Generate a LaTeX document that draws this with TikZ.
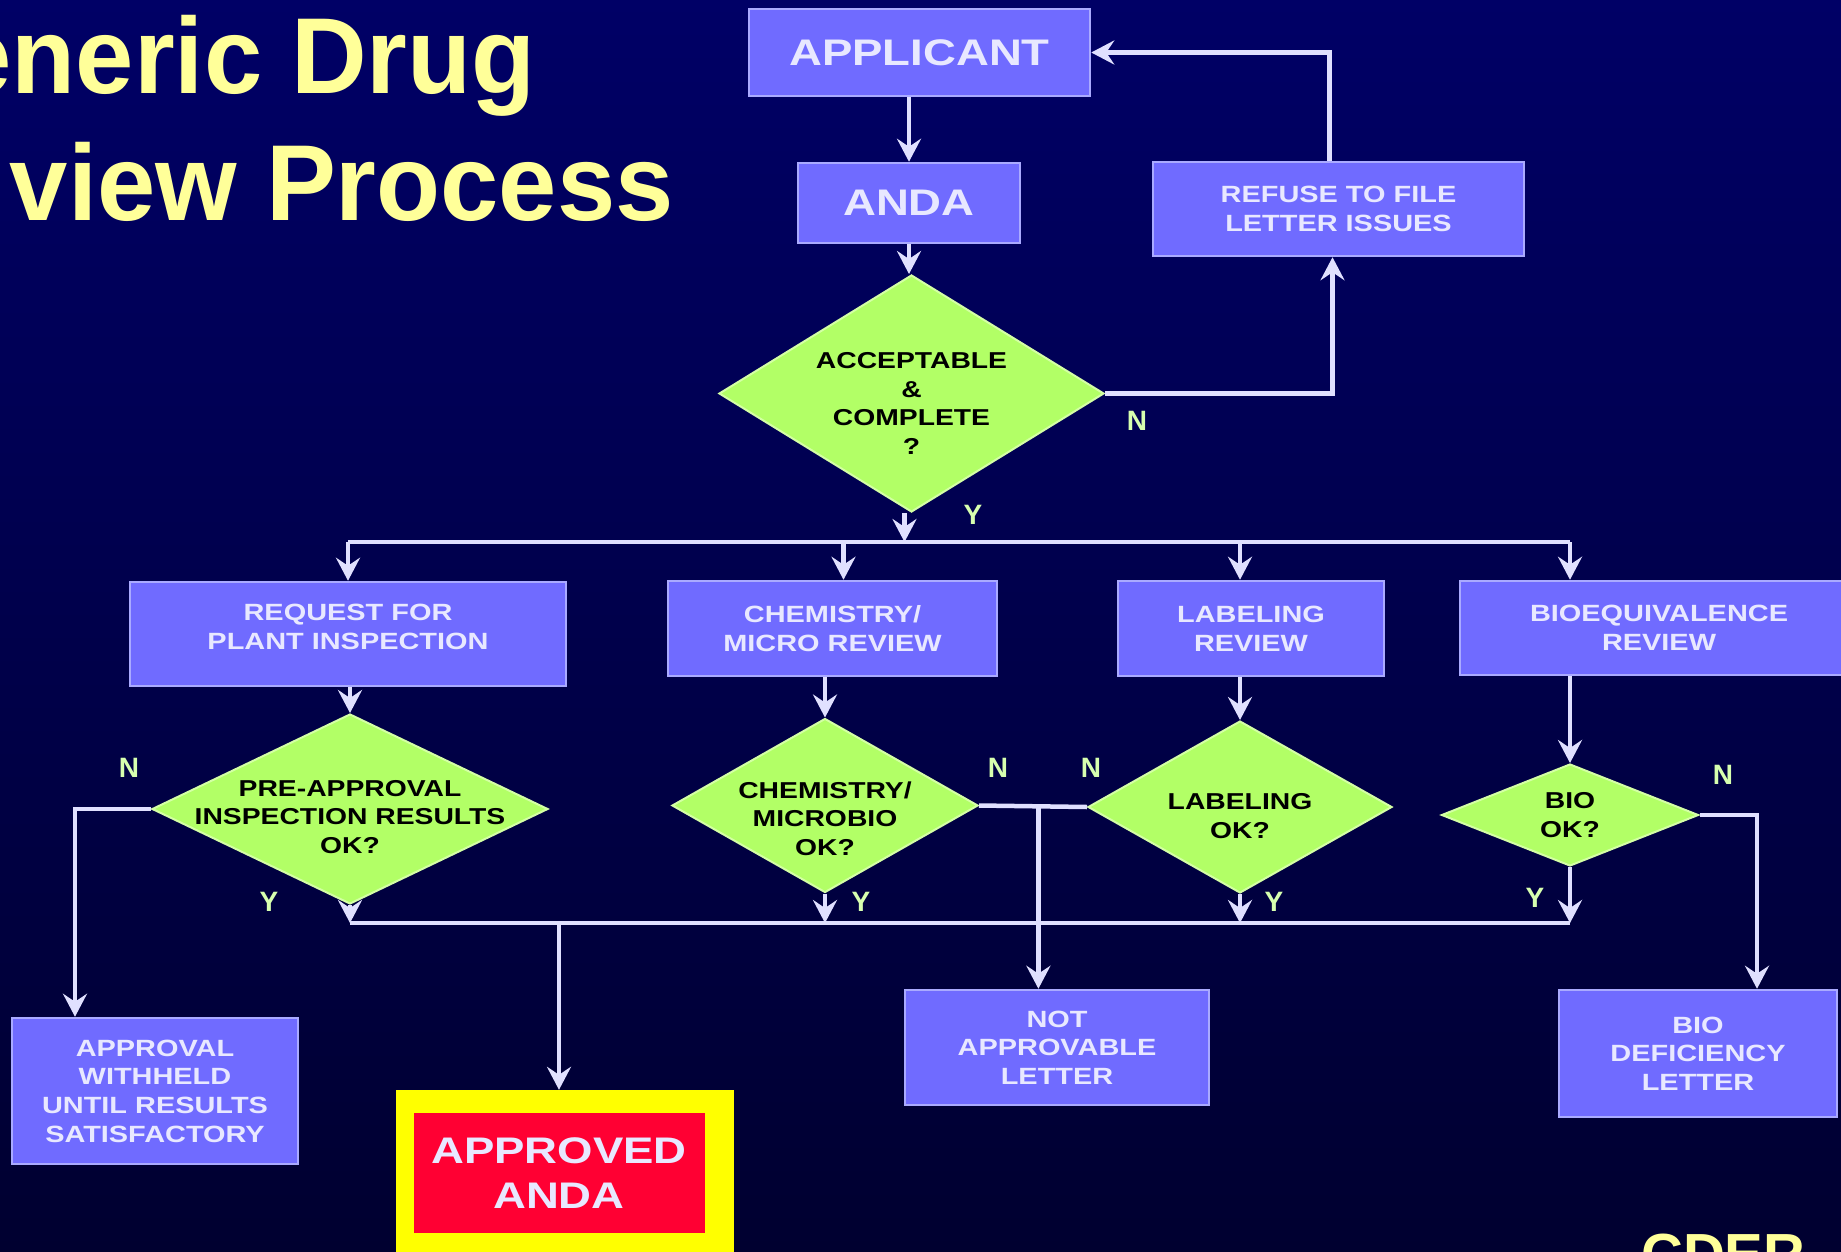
\documentclass[tikz,border=0pt]{standalone}
\usepackage{fontspec}
\setmainfont{Liberation Sans}
\newfontfamily\boxfont{Liberation Sans}[FakeStretch=1.23]
\newfontfamily\titlefont{Liberation Sans}[FakeStretch=0.97]
\usetikzlibrary{arrows.meta,shapes.geometric,calc}
\definecolor{bgtop}{RGB}{0,0,102}
\definecolor{bgbot}{RGB}{0,0,48}
\definecolor{boxfill}{RGB}{112,107,255}
\definecolor{boxedge}{RGB}{170,170,255}
\definecolor{boxtext}{RGB}{232,232,255}
\definecolor{diafill}{RGB}{178,255,102}
\definecolor{diaedge}{RGB}{212,255,165}
\definecolor{linec}{RGB}{224,224,255}
\definecolor{ync}{RGB}{215,255,175}
\definecolor{titlec}{RGB}{255,255,153}
\definecolor{redc}{RGB}{255,0,51}
\definecolor{yelc}{RGB}{255,255,0}
\tikzset{
	box/.style={rectangle, draw=boxedge, line width=2.5pt, fill=boxfill, text=boxtext, align=center, inner sep=0pt,
		font=\boxfont\bfseries\fontsize{23.5}{28.6}\selectfont},
	big/.style={font=\boxfont\bfseries\fontsize{37}{45}\selectfont},
	dia/.style={diamond, draw=diaedge, line width=2pt, fill=diafill, inner sep=0pt},
	dtxt/.style={align=center, text=black, inner sep=0pt, font=\boxfont\bfseries\fontsize{23}{28.5}\selectfont},
	yn/.style={text=ync, inner sep=0pt, font=\bfseries\fontsize{28}{28}\selectfont},
	title/.style={text=titlec, inner sep=0pt, font=\titlefont\bfseries\fontsize{108}{110}\selectfont},
	ln/.style={draw=linec, line width=4.5pt},
	arr/.style={ln, -{Stealth[length=23pt,width=24pt,inset=8pt]}}
}
\begin{document}
\begin{tikzpicture}[x=1pt,y=-1pt]
	\useasboundingbox (0,0) rectangle (1841,1252);
	\clip (0,0) rectangle (1841,1252);
	\shade[top color=bgtop,bottom color=bgbot] (0,0) rectangle (1841,1252);
	\node[title,anchor=base east] (ttl1) at (536,94) {eneric Drug};
	\node[title,anchor=base east] (ttl2) at (674,221) {view Process};
	\node[text=titlec,anchor=base west,inner sep=0pt,font=\bfseries\fontsize{58}{60}\selectfont] (cder) at (1641,1274) {CDER};

	\node[box,big,minimum width=341pt,minimum height=87pt] (applicant) at (919.5,52.5) {APPLICANT};
	\node[box,big,minimum width=222pt,minimum height=80pt] (anda) at (909,203) {ANDA};
	\node[box,minimum width=371pt,minimum height=94pt] (refuse) at (1338.5,209) {REFUSE TO FILE\\LETTER ISSUES};
	\node[dia,minimum width=385pt,minimum height=237pt] (d1) at (911.5,393.5) {};
	\node[dtxt] (d1t) at ([yshift=-10pt]d1) {ACCEPTABLE\\\&\\COMPLETE\\?};

	\node[box,text depth=14pt,minimum width=436pt,minimum height=104pt] (req) at (348,634) {REQUEST FOR\\PLANT INSPECTION};
	\node[box,minimum width=329pt,minimum height=95pt] (chem) at (832.5,628.5) {CHEMISTRY/\\MICRO REVIEW};
	\node[box,minimum width=266pt,minimum height=95pt] (lab) at (1251,628.5) {LABELING\\REVIEW};
	\node[box,minimum width=398pt,minimum height=94pt] (bioeq) at (1659,628) {BIOEQUIVALENCE\\REVIEW};

	\node[dia,minimum width=396pt,minimum height=190pt] (d2) at (350,809) {};
	\node[dtxt] (d2t) at ([yshift=-8pt]d2) {PRE-APPROVAL\\INSPECTION RESULTS\\OK?};
	\node[dia,minimum width=306pt,minimum height=174pt] (d3) at (825,805.5) {};
	\node[dtxt] (d3t) at ([yshift=-13pt]d3) {CHEMISTRY/\\MICROBIO\\OK?};
	\node[dia,minimum width=304pt,minimum height=172pt] (d4) at (1240,807) {};
	\node[dtxt] (d4t) at ([yshift=-9pt]d4) {LABELING\\OK?};
	\node[dia,minimum width=257pt,minimum height=102pt] (d5) at (1570,815) {};
	\node[dtxt] (d5t) at (d5) {BIO\\OK?};

	\node[box,minimum width=286pt,minimum height=146pt] (withheld) at (155,1091) {APPROVAL\\WITHHELD\\UNTIL RESULTS\\SATISFACTORY};
	\node[box,minimum width=304pt,minimum height=115pt] (notappr) at (1057,1047.5) {NOT\\APPROVABLE\\LETTER};
	\node[box,minimum width=278pt,minimum height=127pt] (biodef) at (1698,1053.5) {BIO\\DEFICIENCY\\LETTER};
	\node[fill=yelc,minimum width=338pt,minimum height=180pt,inner sep=0pt] (frame) at (565,1180) {};
	\node[box,big,draw=none,fill=redc,minimum width=291pt,minimum height=120pt] (approved) at (559,1173) {APPROVED\\ANDA};

	\coordinate (tb) at (0,542);
	\coordinate (bb) at (0,923);
	\coordinate (nj) at ($(d3.east)!0.55!(d4.west)$);

	\draw[arr] (anda.north |- applicant.south) -- (anda.north);
	\draw[arr] (anda.south) -- (anda.south |- d1.north);
	\draw[arr] (d1.east) -| ([xshift=-6pt]refuse.south);
	\draw[arr] ([xshift=-9pt]refuse.north) |- (applicant.east);
	\draw[arr] ([xshift=-7pt]d1.south) -- ([xshift=-7pt]d1.south |- tb);
	\draw[ln] (tb -| req) -- (tb -| d5);
	\draw[arr] (tb -| req) -- (req.north);
	\draw[arr] ([xshift=11pt]tb -| chem) -- ([xshift=11pt]chem.north);
	\draw[arr] (tb -| d4) -- (lab.north -| d4);
	\draw[arr] (tb -| d5) -- (bioeq.north -| d5);
	\draw[arr] (req.south -| d2) -- (d2.north);
	\draw[arr] (chem.south -| d3) -- (d3.north);
	\draw[arr] (lab.south -| d4) -- (d4.north);
	\draw[arr] (bioeq.south -| d5) -- (d5.north);

	\draw[ln] (bb -| d2) -- (bb -| d5);
	\draw[arr] (d2.south) -- (d2.south |- bb);
	\draw[arr] (d3.south) -- (d3.south |- bb);
	\draw[arr] (d4.south) -- (d4.south |- bb);
	\draw[arr] (d5.south) -- (d5.south |- bb);
	\draw[arr] (bb -| approved) -- (frame.north -| approved);

	\draw[arr] (d2.west) -| ([xshift=-80pt]withheld.north);
	\draw[ln] (d3.east) -- (d4.west);
	\draw[arr] (nj) -- (nj |- notappr.north);
	\draw[arr] (d5.east) -| ([xshift=59pt]biodef.north);

	\node[yn] (n1) at (1137,421) {N};
	\node[yn] (y1) at (973,515) {Y};
	\node[yn] (n2) at (129,768) {N};
	\node[yn] (y2) at (269,902) {Y};
	\node[yn] (n3) at (998,768) {N};
	\node[yn] (n4) at (1091,768) {N};
	\node[yn] (y3) at (861,902) {Y};
	\node[yn] (y4) at (1274,902) {Y};
	\node[yn] (y5) at (1535,898) {Y};
	\node[yn] (n5) at (1723,775) {N};
\end{tikzpicture}
\end{document}
